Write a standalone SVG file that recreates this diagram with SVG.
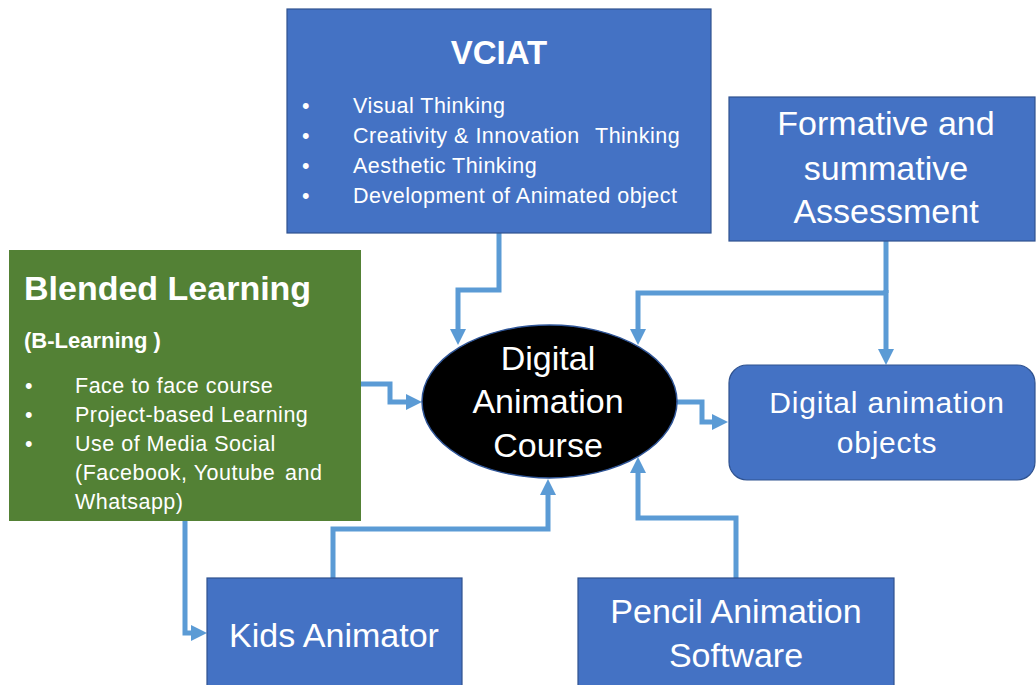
<svg xmlns="http://www.w3.org/2000/svg" width="1036" height="685" viewBox="0 0 1036 685">
  <style>
    .box { fill: #4472C4; stroke: #2F528F; stroke-width: 1.2; }
    .green { fill: #538135; }
    .t { font-family: "Liberation Sans", Arial, sans-serif; fill: #ffffff; }
    .bullet { font-size: 21.5px; letter-spacing: 0.5px; }
    .big { font-size: 34px; }
    .mid { text-anchor: middle; }
    .link { fill: none; stroke: #5B9BD5; stroke-width: 5; stroke-linejoin: miter; marker-end: url(#head); }
    .plain { fill: none; stroke: #5B9BD5; stroke-width: 5; }
  </style>
  <defs>
    <marker id="head" markerUnits="userSpaceOnUse" markerWidth="17" markerHeight="17" refX="0" refY="8" orient="auto" overflow="visible">
      <path d="M0,0 L16,8 L0,16 z" fill="#5B9BD5"/>
    </marker>
  </defs>
  <rect width="1036" height="685" fill="#ffffff"/>

  <!-- connectors -->
  <g id="connectors">
    <path class="link" d="M499,233 V290 H458 V329"/>
    <path class="plain" d="M886,241 V293"/>
    <path class="link" d="M886,293 H638 V329"/>
    <path class="link" d="M886,290 V349"/>
    <path class="link" d="M361,384 H390 V402 H406"/>
    <path class="link" d="M677,402 H702 V422 H712"/>
    <path class="link" d="M185,521 V633 H191"/>
    <path class="link" d="M333,578 V529 H548 V495"/>
    <path class="link" d="M736,578 V518 H638 V473"/>
  </g>

  <!-- VCIAT -->
  <g id="vciat">
    <rect class="box" x="287" y="9" width="424" height="224"/>
    <text class="t mid" x="499" y="64" font-size="33" font-weight="bold">VCIAT</text>
    <g class="t bullet">
      <text x="302" y="113">•</text>
      <text x="353" y="113">Visual Thinking</text>
      <text x="302" y="143">•</text>
      <text x="353" y="143">Creativity &amp; Innovation<tspan x="595">Thinking</tspan></text>
      <text x="302" y="173">•</text>
      <text x="353" y="173">Aesthetic Thinking</text>
      <text x="302" y="203">•</text>
      <text x="353" y="203">Development of Animated object</text>
    </g>
  </g>

  <!-- Blended Learning -->
  <g id="blended">
    <rect class="green" x="9" y="250" width="352" height="271"/>
    <text class="t" x="24" y="300" font-size="34" font-weight="bold">Blended Learning</text>
    <text class="t" x="24" y="348" font-size="22" font-weight="bold">(B-Learning )</text>
    <g class="t bullet">
      <text x="25" y="393">•</text>
      <text x="75" y="393">Face to face course</text>
      <text x="25" y="422">•</text>
      <text x="75" y="422">Project-based Learning</text>
      <text x="25" y="451">•</text>
      <text x="75" y="451">Use of Media Social</text>
      <text x="75" y="480">(Facebook, Youtube<tspan x="285">and</tspan></text>
      <text x="75" y="509">Whatsapp)</text>
    </g>
  </g>

  <!-- Digital Animation Course -->
  <g id="course">
    <ellipse cx="549.5" cy="401.5" rx="127.5" ry="76.5" fill="#000000" stroke="#2F5597" stroke-width="1.5"/>
    <text class="t big mid" x="548" y="370">Digital</text>
    <text class="t big mid" x="548" y="413">Animation</text>
    <text class="t big mid" x="548" y="457">Course</text>
  </g>

  <!-- Formative and summative Assessment -->
  <g id="assessment">
    <rect class="box" x="729" y="97" width="306" height="144"/>
    <text class="t big mid" x="886" y="135">Formative and</text>
    <text class="t big mid" x="886" y="180">summative</text>
    <text class="t big mid" x="886" y="223">Assessment</text>
  </g>

  <!-- Digital animation objects -->
  <g id="objects">
    <rect class="box" x="729" y="365" width="306" height="115" rx="18" ry="18"/>
    <text class="t mid" x="887" y="413" font-family="Lato, 'Open Sans', sans-serif" font-size="30" letter-spacing="0.8">Digital animation</text>
    <text class="t mid" x="887" y="453" font-family="Lato, 'Open Sans', sans-serif" font-size="30" letter-spacing="0.8">objects</text>
  </g>

  <!-- Kids Animator -->
  <g id="kids">
    <rect class="box" x="207" y="578" width="255" height="112"/>
    <text class="t big mid" x="334" y="647">Kids Animator</text>
  </g>

  <!-- Pencil Animation Software -->
  <g id="pencil">
    <rect class="box" x="578" y="578" width="316" height="112"/>
    <text class="t big mid" x="736" y="623">Pencil Animation</text>
    <text class="t big mid" x="736" y="667">Software</text>
  </g>
</svg>
